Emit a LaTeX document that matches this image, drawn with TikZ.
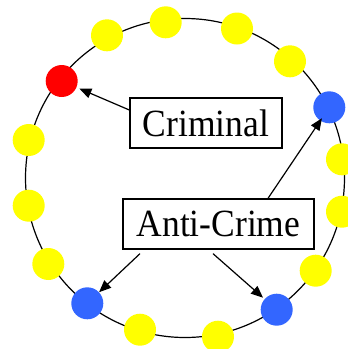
\documentclass[tikz,border=0pt]{standalone}
\usepackage{fontspec}
\setmainfont{Liberation Serif}
\usetikzlibrary{arrows.meta}
\definecolor{dotyellow}{HTML}{FFFF00}
\definecolor{dotred}{HTML}{FF0000}
\definecolor{dotblue}{HTML}{3366FF}
\tikzset{
  dot/.style={circle, minimum size=32pt, inner sep=0pt, draw=none},
  ydot/.style={dot, fill=dotyellow},
  rdot/.style={dot, fill=dotred},
  bdot/.style={dot, fill=dotblue},
  labelbox/.style={draw, line width=1.3pt, fill=white, inner sep=0pt,
    minimum height=50pt, font=\fontsize{38.5}{44}\selectfont},
  arr/.style={line width=1.2pt, -{Triangle[length=12pt,width=10pt]}},
}
\newcommand{\narrow}[1]{\scalebox{0.922}[1]{#1}}
\begin{document}
\begin{tikzpicture}[x=1pt, y=-1pt]
\useasboundingbox (0,0) rectangle (348,349);
\draw[line width=1.2pt] (185,178) circle[radius=159.5pt];
\node[rdot] (d1) at (61.7,81) {};
\node[ydot] (d2) at (107,35.3) {};
\node[ydot] (d3) at (165.7,22.3) {};
\node[ydot] (d4) at (237,28.5) {};
\node[ydot] (d5) at (290,61.3) {};
\node[bdot] (d6) at (329.3,107.3) {};
\node[ydot] (d7) at (342,159.3) {};
\node[ydot] (d8) at (342,211.7) {};
\node[ydot] (d9) at (315.7,270.7) {};
\node[bdot] (d10) at (276.7,309.7) {};
\node[ydot] (d11) at (218,336.7) {};
\node[ydot] (d12) at (140,329.7) {};
\node[bdot] (d13) at (87.3,303.3) {};
\node[ydot] (d14) at (48.3,264) {};
\node[ydot] (d15) at (28.7,205.7) {};
\node[ydot] (d16) at (28.7,140) {};
\node[labelbox, minimum width=152pt] (crim) at (206,123) {\narrow{Criminal}};
\node[labelbox, minimum width=191pt] (anti) at (218.5,224) {\narrow{Anti-Crime}};
\draw[arr, shorten >=3pt] ([yshift=13pt]crim.west) -- (d1);
\draw[arr, shorten >=-3pt] ([xshift=49.5pt]anti.north) -- (d6);
\draw[arr] ([xshift=-78.5pt,yshift=-4pt]anti.south) -- (d13);
\draw[arr, shorten >=2pt] ([xshift=-5.5pt,yshift=-4pt]anti.south) -- (d10);
\end{tikzpicture}
\end{document}
